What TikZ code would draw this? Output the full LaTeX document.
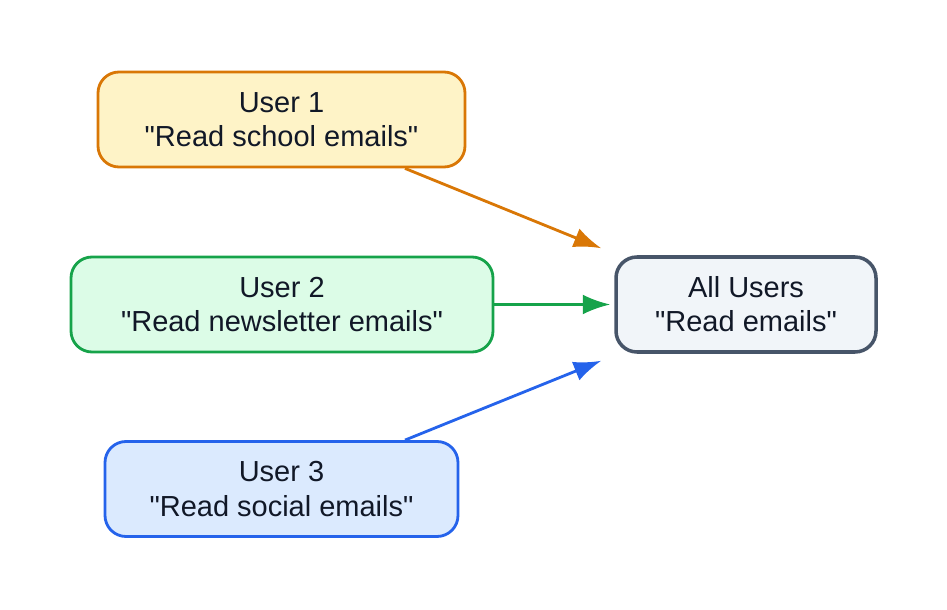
\documentclass[tikz,border=0pt]{standalone}
\usepackage{fontspec}
\setmainfont{Liberation Sans}[Ligatures=TeXOff]
\usetikzlibrary{calc,arrows.meta}
\definecolor{orangeline}{HTML}{D97706}
\definecolor{orangefill}{HTML}{FEF3C7}
\definecolor{greenline}{HTML}{16A34A}
\definecolor{greenfill}{HTML}{DCFCE7}
\definecolor{blueline}{HTML}{2563EB}
\definecolor{bluefill}{HTML}{DBEAFE}
\definecolor{grayline}{HTML}{475569}
\definecolor{grayfill}{HTML}{F1F5F9}
\definecolor{textcol}{HTML}{111827}
\tikzset{main/.style={draw, rounded corners=0.42cm, line width=1.6pt, minimum height=1.9cm,
  align=center, text=textcol, font=\fontsize{16.5}{19.5}\selectfont},
  link/.style={line width=1.6pt, -{Latex[length=0.55cm,width=0.4cm]}}}

\begin{document}
\begin{tikzpicture}
	\useasboundingbox (0,0) rectangle (18.94,12.18);
	\node[main, draw=orangeline, fill=orangefill, minimum width=7.34cm] (u1) at (5.63,9.79) {User 1\\"Read school emails"};
	\node[main, draw=greenline, fill=greenfill, minimum width=8.44cm] (u2) at (5.64,6.09) {User 2\\"Read newsletter emails"};
	\node[main, draw=blueline, fill=bluefill, minimum width=7.06cm] (u3) at (5.63,2.40) {User 3\\"Read social emails"};
	\node[main, draw=grayline, fill=grayfill, line width=2pt, minimum width=5.2cm] (all) at (14.92,6.09) {All Users\\"Read emails"};
	
	\draw[link, orangeline] ($(u1.south)+(2.47,0)$) -- ($(all.north west)+(-0.26,0.14)$);
	\draw[link, greenline] (u2.east) -- ($(all.west)+(-0.08,0)$);
	\draw[link, blueline] ($(u3.north)+(2.47,0)$) -- ($(all.south west)+(-0.26,-0.14)$);
\end{tikzpicture}
\end{document}
